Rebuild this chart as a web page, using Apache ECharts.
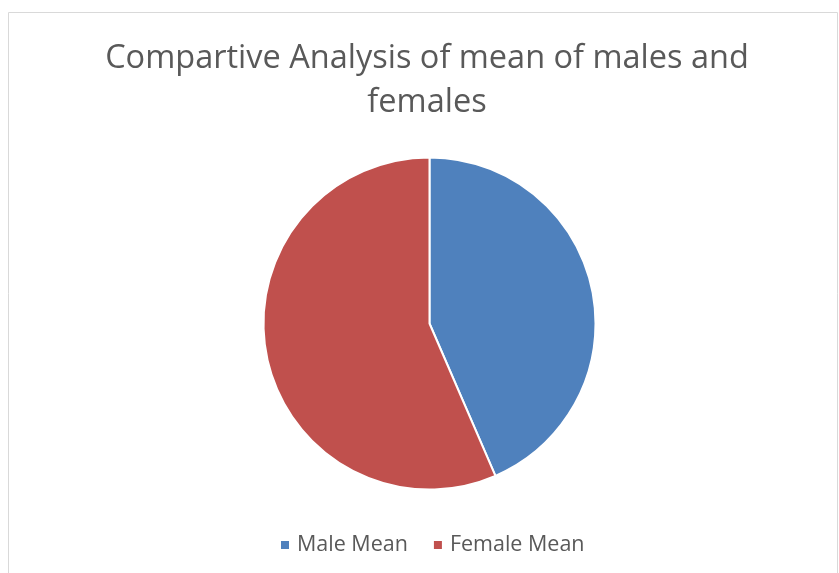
<!DOCTYPE html>
<html>
<head>
<meta charset="utf-8">
<script src="https://cdn.jsdelivr.net/npm/echarts@6/dist/echarts.min.js"></script>
<style>
html, body { margin: 0; padding: 0; background: #fff; }
#main { width: 839px; height: 573px; }
</style>
</head>
<body>
<div id="main"></div>
<script>
// chart data
var categories = ['Male Mean', 'Female Mean'];
var meanValues = [43.5, 56.5];
var sliceColors = ['#4F81BD', '#C0504D'];

var chart = echarts.init(document.getElementById('main'));

var option = {
    animation: false,
    color: sliceColors,
    title: {
        text: 'Compartive Analysis of mean of males and\nfemales',
        left: 422,
        top: 32,
        textAlign: 'center',
        textStyle: {
            fontFamily: 'Open Sans',
            fontSize: 32.5,
            fontWeight: 'normal',
            color: '#595959',
            lineHeight: 44
        }
    },
    legend: {
        bottom: 12,
        left: 274,
        icon: 'rect',
        itemWidth: 10,
        itemHeight: 10,
        itemGap: 24,
        data: categories,
        textStyle: {
            fontFamily: 'Open Sans',
            fontSize: 21.5,
            color: '#595959',
            padding: [0, 0, 0, 2]
        }
    },
    graphic: [{
        type: 'rect',
        shape: { x: 8.5, y: 12.5, width: 829, height: 600 },
        style: { fill: 'none', stroke: '#d9d9d9', lineWidth: 1 },
        silent: true
    }],
    series: [{
        name: 'Mean',
        type: 'pie',
        center: [429.5, 323.5],
        radius: [0, 166],
        startAngle: 90,
        clockwise: true,
        label: { show: false },
        labelLine: { show: false },
        itemStyle: { borderColor: '#fff', borderWidth: 2 },
        data: categories.map(function (c, i) {
            return { name: c, value: meanValues[i] };
        })
    }]
};

chart.setOption(option);
</script>
</body>
</html>
